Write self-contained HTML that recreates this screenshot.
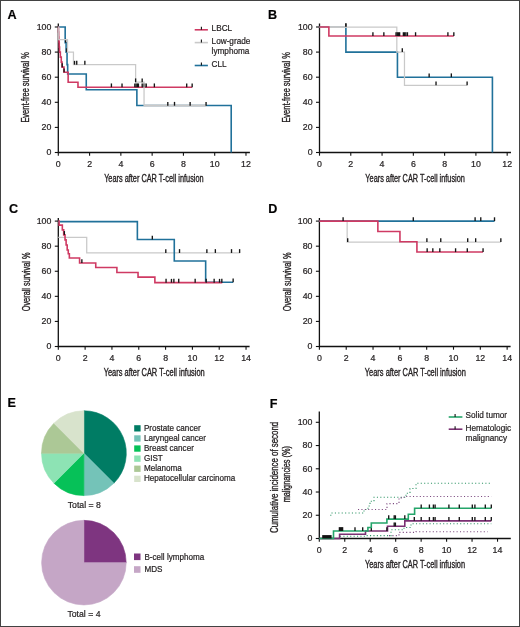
<!DOCTYPE html>
<html><head><meta charset="utf-8"><style>
html,body{margin:0;padding:0;background:#fff;}
body{width:520px;height:627px;overflow:hidden;font-family:"Liberation Sans", sans-serif;}
svg{display:block;will-change:transform;} text{stroke:#231f20;stroke-width:0.22px;} text.ct{stroke-width:0.35px;}
</style></head><body>
<svg width="520" height="627" viewBox="0 0 520 627" font-family='"Liberation Sans", sans-serif'>
<rect x="0" y="0" width="520" height="627" fill="#fff"/>
<path d="M58.30,23.50V152.50H249.90" fill="none" stroke="#111" stroke-width="1.3"/>
<line x1="58.30" y1="152.50" x2="58.30" y2="155.70" stroke="#111" stroke-width="1.1"/>
<text x="58.30" y="166.80" font-size="8.8" text-anchor="middle" fill="#231f20" >0</text>
<line x1="89.58" y1="152.50" x2="89.58" y2="155.70" stroke="#111" stroke-width="1.1"/>
<text x="89.58" y="166.80" font-size="8.8" text-anchor="middle" fill="#231f20" >2</text>
<line x1="120.86" y1="152.50" x2="120.86" y2="155.70" stroke="#111" stroke-width="1.1"/>
<text x="120.86" y="166.80" font-size="8.8" text-anchor="middle" fill="#231f20" >4</text>
<line x1="152.14" y1="152.50" x2="152.14" y2="155.70" stroke="#111" stroke-width="1.1"/>
<text x="152.14" y="166.80" font-size="8.8" text-anchor="middle" fill="#231f20" >6</text>
<line x1="183.42" y1="152.50" x2="183.42" y2="155.70" stroke="#111" stroke-width="1.1"/>
<text x="183.42" y="166.80" font-size="8.8" text-anchor="middle" fill="#231f20" >8</text>
<line x1="214.70" y1="152.50" x2="214.70" y2="155.70" stroke="#111" stroke-width="1.1"/>
<text x="214.70" y="166.80" font-size="8.8" text-anchor="middle" fill="#231f20" >10</text>
<line x1="245.98" y1="152.50" x2="245.98" y2="155.70" stroke="#111" stroke-width="1.1"/>
<text x="245.98" y="166.80" font-size="8.8" text-anchor="middle" fill="#231f20" >12</text>
<line x1="54.80" y1="152.50" x2="58.30" y2="152.50" stroke="#111" stroke-width="1.1"/>
<text x="51.40" y="155.40" font-size="8.8" text-anchor="end" fill="#231f20" >0</text>
<line x1="54.80" y1="127.40" x2="58.30" y2="127.40" stroke="#111" stroke-width="1.1"/>
<text x="51.40" y="130.30" font-size="8.8" text-anchor="end" fill="#231f20" >20</text>
<line x1="54.80" y1="102.30" x2="58.30" y2="102.30" stroke="#111" stroke-width="1.1"/>
<text x="51.40" y="105.20" font-size="8.8" text-anchor="end" fill="#231f20" >40</text>
<line x1="54.80" y1="77.20" x2="58.30" y2="77.20" stroke="#111" stroke-width="1.1"/>
<text x="51.40" y="80.10" font-size="8.8" text-anchor="end" fill="#231f20" >60</text>
<line x1="54.80" y1="52.10" x2="58.30" y2="52.10" stroke="#111" stroke-width="1.1"/>
<text x="51.40" y="55.00" font-size="8.8" text-anchor="end" fill="#231f20" >80</text>
<line x1="54.80" y1="27.00" x2="58.30" y2="27.00" stroke="#111" stroke-width="1.1"/>
<text x="51.40" y="29.90" font-size="8.8" text-anchor="end" fill="#231f20" >100</text>
<text x="153.90" y="181.80" font-size="10.2" text-anchor="middle" fill="#231f20" textLength="99.5" lengthAdjust="spacingAndGlyphs"  class="ct">Years after CAR T-cell infusion</text>
<text x="28.70" y="87.40" font-size="10.2" text-anchor="middle" fill="#231f20" textLength="70.4" lengthAdjust="spacingAndGlyphs" transform="rotate(-90 28.70 87.40)"  class="ct">Event-free survival %</text>
<text x="7.60" y="19.10" font-size="12.6" text-anchor="start" fill="#000" font-weight="bold" >A</text>
<path d="M58.30,27.00H65.17V42.69H66.11V52.10H67.05V64.65H67.67V74.06H86.26V89.75H136.87V105.44H231.21V152.50H231.21" fill="none" stroke="#20719a" stroke-width="1.6"/>
<line x1="65.64" y1="42.69" x2="65.64" y2="38.89" stroke="#151515" stroke-width="1.35"/>
<line x1="66.58" y1="52.10" x2="66.58" y2="48.30" stroke="#151515" stroke-width="1.35"/>
<path d="M58.30,27.00H58.53V32.02H58.77V37.04H59.00V42.06H59.24V47.08H59.55V52.10H60.33V57.12H61.27V62.14H62.05V67.16H63.92V72.18H68.14V82.22H77.98V87.24H192.16" fill="none" stroke="#cf3a63" stroke-width="1.6"/>
<line x1="62.20" y1="67.16" x2="62.20" y2="63.36" stroke="#151515" stroke-width="1.35"/>
<line x1="64.08" y1="72.18" x2="64.08" y2="68.38" stroke="#151515" stroke-width="1.35"/>
<line x1="111.41" y1="87.24" x2="111.41" y2="83.44" stroke="#151515" stroke-width="1.35"/>
<line x1="122.03" y1="87.24" x2="122.03" y2="83.44" stroke="#151515" stroke-width="1.35"/>
<line x1="134.84" y1="87.24" x2="134.84" y2="83.44" stroke="#151515" stroke-width="1.35"/>
<line x1="136.09" y1="87.24" x2="136.09" y2="83.44" stroke="#151515" stroke-width="1.35"/>
<line x1="137.34" y1="87.24" x2="137.34" y2="83.44" stroke="#151515" stroke-width="1.35"/>
<line x1="138.43" y1="87.24" x2="138.43" y2="83.44" stroke="#151515" stroke-width="1.35"/>
<line x1="142.18" y1="87.24" x2="142.18" y2="83.44" stroke="#151515" stroke-width="1.35"/>
<line x1="143.43" y1="87.24" x2="143.43" y2="83.44" stroke="#151515" stroke-width="1.35"/>
<line x1="144.68" y1="87.24" x2="144.68" y2="83.44" stroke="#151515" stroke-width="1.35"/>
<line x1="146.24" y1="87.24" x2="146.24" y2="83.44" stroke="#151515" stroke-width="1.35"/>
<line x1="154.36" y1="87.24" x2="154.36" y2="83.44" stroke="#151515" stroke-width="1.35"/>
<line x1="186.70" y1="87.24" x2="186.70" y2="83.44" stroke="#151515" stroke-width="1.35"/>
<line x1="192.16" y1="87.24" x2="192.16" y2="83.44" stroke="#151515" stroke-width="1.35"/>
<line x1="144.05" y1="105.56" x2="206.07" y2="105.56" stroke="#c9c9c9" stroke-width="1.9"/>
<path d="M58.30,27.00H58.77V39.55H67.52V52.10H73.45V64.65H135.62V82.22H144.05V105.69H206.07" fill="none" stroke="#c9c9c9" stroke-width="1.25"/>
<line x1="74.54" y1="64.65" x2="74.54" y2="60.85" stroke="#151515" stroke-width="1.35"/>
<line x1="76.73" y1="64.65" x2="76.73" y2="60.85" stroke="#151515" stroke-width="1.35"/>
<line x1="84.85" y1="64.65" x2="84.85" y2="60.85" stroke="#151515" stroke-width="1.35"/>
<line x1="135.62" y1="82.22" x2="135.62" y2="78.42" stroke="#151515" stroke-width="1.35"/>
<line x1="142.18" y1="82.22" x2="142.18" y2="78.42" stroke="#151515" stroke-width="1.35"/>
<line x1="167.80" y1="105.69" x2="167.80" y2="101.89" stroke="#151515" stroke-width="1.35"/>
<line x1="174.51" y1="105.69" x2="174.51" y2="101.89" stroke="#151515" stroke-width="1.35"/>
<line x1="190.13" y1="105.69" x2="190.13" y2="101.89" stroke="#151515" stroke-width="1.35"/>
<line x1="206.07" y1="105.69" x2="206.07" y2="101.89" stroke="#151515" stroke-width="1.35"/>
<line x1="194.7" y1="29.8" x2="207.9" y2="29.8" stroke="#cf3a63" stroke-width="1.6"/>
<line x1="201.4" y1="29.8" x2="201.4" y2="26.8" stroke="#111" stroke-width="1.1"/>
<text x="211.60" y="30.90" font-size="8.9" text-anchor="start" fill="#231f20" textLength="20.52" lengthAdjust="spacingAndGlyphs" class="lt">LBCL</text>
<line x1="194.7" y1="42.6" x2="207.9" y2="42.6" stroke="#c9c9c9" stroke-width="1.6"/>
<line x1="201.4" y1="42.6" x2="201.4" y2="39.6" stroke="#111" stroke-width="1.1"/>
<text x="211.60" y="43.90" font-size="8.9" text-anchor="start" fill="#231f20" textLength="38.76" lengthAdjust="spacingAndGlyphs" class="lt">Low-grade</text>
<text x="211.60" y="53.80" font-size="8.9" text-anchor="start" fill="#231f20" textLength="37.83" lengthAdjust="spacingAndGlyphs" class="lt">lymphoma</text>
<line x1="194.7" y1="65.5" x2="207.9" y2="65.5" stroke="#20719a" stroke-width="1.6"/>
<line x1="201.4" y1="65.5" x2="201.4" y2="62.5" stroke="#111" stroke-width="1.1"/>
<text x="211.60" y="66.80" font-size="8.9" text-anchor="start" fill="#231f20" textLength="15.06" lengthAdjust="spacingAndGlyphs" class="lt">CLL</text>
<path d="M319.50,23.50V152.50H511.00" fill="none" stroke="#111" stroke-width="1.3"/>
<line x1="319.50" y1="152.50" x2="319.50" y2="155.70" stroke="#111" stroke-width="1.1"/>
<text x="319.50" y="166.80" font-size="8.8" text-anchor="middle" fill="#231f20" >0</text>
<line x1="350.78" y1="152.50" x2="350.78" y2="155.70" stroke="#111" stroke-width="1.1"/>
<text x="350.78" y="166.80" font-size="8.8" text-anchor="middle" fill="#231f20" >2</text>
<line x1="382.06" y1="152.50" x2="382.06" y2="155.70" stroke="#111" stroke-width="1.1"/>
<text x="382.06" y="166.80" font-size="8.8" text-anchor="middle" fill="#231f20" >4</text>
<line x1="413.34" y1="152.50" x2="413.34" y2="155.70" stroke="#111" stroke-width="1.1"/>
<text x="413.34" y="166.80" font-size="8.8" text-anchor="middle" fill="#231f20" >6</text>
<line x1="444.62" y1="152.50" x2="444.62" y2="155.70" stroke="#111" stroke-width="1.1"/>
<text x="444.62" y="166.80" font-size="8.8" text-anchor="middle" fill="#231f20" >8</text>
<line x1="475.90" y1="152.50" x2="475.90" y2="155.70" stroke="#111" stroke-width="1.1"/>
<text x="475.90" y="166.80" font-size="8.8" text-anchor="middle" fill="#231f20" >10</text>
<line x1="507.18" y1="152.50" x2="507.18" y2="155.70" stroke="#111" stroke-width="1.1"/>
<text x="507.18" y="166.80" font-size="8.8" text-anchor="middle" fill="#231f20" >12</text>
<line x1="316.00" y1="152.50" x2="319.50" y2="152.50" stroke="#111" stroke-width="1.1"/>
<text x="312.60" y="155.40" font-size="8.8" text-anchor="end" fill="#231f20" >0</text>
<line x1="316.00" y1="127.40" x2="319.50" y2="127.40" stroke="#111" stroke-width="1.1"/>
<text x="312.60" y="130.30" font-size="8.8" text-anchor="end" fill="#231f20" >20</text>
<line x1="316.00" y1="102.30" x2="319.50" y2="102.30" stroke="#111" stroke-width="1.1"/>
<text x="312.60" y="105.20" font-size="8.8" text-anchor="end" fill="#231f20" >40</text>
<line x1="316.00" y1="77.20" x2="319.50" y2="77.20" stroke="#111" stroke-width="1.1"/>
<text x="312.60" y="80.10" font-size="8.8" text-anchor="end" fill="#231f20" >60</text>
<line x1="316.00" y1="52.10" x2="319.50" y2="52.10" stroke="#111" stroke-width="1.1"/>
<text x="312.60" y="55.00" font-size="8.8" text-anchor="end" fill="#231f20" >80</text>
<line x1="316.00" y1="27.00" x2="319.50" y2="27.00" stroke="#111" stroke-width="1.1"/>
<text x="312.60" y="29.90" font-size="8.8" text-anchor="end" fill="#231f20" >100</text>
<text x="415.10" y="181.80" font-size="10.2" text-anchor="middle" fill="#231f20" textLength="99.5" lengthAdjust="spacingAndGlyphs"  class="ct">Years after CAR T-cell infusion</text>
<text x="290.00" y="87.40" font-size="10.2" text-anchor="middle" fill="#231f20" textLength="70.4" lengthAdjust="spacingAndGlyphs" transform="rotate(-90 290.00 87.40)"  class="ct">Event-free survival %</text>
<text x="268.10" y="19.20" font-size="12.6" text-anchor="start" fill="#000" font-weight="bold" >B</text>
<path d="M319.50,27.00H345.90V52.10H397.44V77.20H492.41V152.50H492.41" fill="none" stroke="#20719a" stroke-width="1.6"/>
<line x1="429.15" y1="77.20" x2="429.15" y2="73.40" stroke="#151515" stroke-width="1.35"/>
<line x1="451.33" y1="77.20" x2="451.33" y2="73.40" stroke="#151515" stroke-width="1.35"/>
<path d="M319.50,27.00H396.82V52.10H404.47V85.36H467.11" fill="none" stroke="#c9c9c9" stroke-width="1.25"/>
<line x1="345.90" y1="27.00" x2="345.90" y2="23.20" stroke="#151515" stroke-width="1.35"/>
<line x1="402.29" y1="52.10" x2="402.29" y2="48.30" stroke="#151515" stroke-width="1.35"/>
<line x1="436.03" y1="85.36" x2="436.03" y2="81.56" stroke="#151515" stroke-width="1.35"/>
<line x1="467.11" y1="85.36" x2="467.11" y2="81.56" stroke="#151515" stroke-width="1.35"/>
<line x1="328.87" y1="27.00" x2="346.83" y2="27.00" stroke="#c9c9c9" stroke-width="1.8"/>
<line x1="345.90" y1="23.40" x2="345.90" y2="27.00" stroke="#111" stroke-width="1.1"/>
<path d="M319.50,27.00H328.87V36.04H453.83" fill="none" stroke="#cf3a63" stroke-width="1.6"/>
<line x1="372.92" y1="36.04" x2="372.92" y2="32.24" stroke="#151515" stroke-width="1.35"/>
<line x1="383.85" y1="36.04" x2="383.85" y2="32.24" stroke="#151515" stroke-width="1.35"/>
<line x1="396.04" y1="36.04" x2="396.04" y2="32.24" stroke="#151515" stroke-width="1.35"/>
<line x1="397.29" y1="36.04" x2="397.29" y2="32.24" stroke="#151515" stroke-width="1.35"/>
<line x1="398.54" y1="36.04" x2="398.54" y2="32.24" stroke="#151515" stroke-width="1.35"/>
<line x1="399.63" y1="36.04" x2="399.63" y2="32.24" stroke="#151515" stroke-width="1.35"/>
<line x1="403.38" y1="36.04" x2="403.38" y2="32.24" stroke="#151515" stroke-width="1.35"/>
<line x1="404.63" y1="36.04" x2="404.63" y2="32.24" stroke="#151515" stroke-width="1.35"/>
<line x1="405.88" y1="36.04" x2="405.88" y2="32.24" stroke="#151515" stroke-width="1.35"/>
<line x1="407.44" y1="36.04" x2="407.44" y2="32.24" stroke="#151515" stroke-width="1.35"/>
<line x1="415.56" y1="36.04" x2="415.56" y2="32.24" stroke="#151515" stroke-width="1.35"/>
<line x1="447.90" y1="36.04" x2="447.90" y2="32.24" stroke="#151515" stroke-width="1.35"/>
<line x1="453.83" y1="36.04" x2="453.83" y2="32.24" stroke="#151515" stroke-width="1.35"/>
<path d="M58.30,218.00V346.50H249.60" fill="none" stroke="#111" stroke-width="1.3"/>
<line x1="58.30" y1="346.50" x2="58.30" y2="349.70" stroke="#111" stroke-width="1.1"/>
<text x="58.30" y="360.80" font-size="8.8" text-anchor="middle" fill="#231f20" >0</text>
<line x1="85.12" y1="346.50" x2="85.12" y2="349.70" stroke="#111" stroke-width="1.1"/>
<text x="85.12" y="360.80" font-size="8.8" text-anchor="middle" fill="#231f20" >2</text>
<line x1="111.94" y1="346.50" x2="111.94" y2="349.70" stroke="#111" stroke-width="1.1"/>
<text x="111.94" y="360.80" font-size="8.8" text-anchor="middle" fill="#231f20" >4</text>
<line x1="138.76" y1="346.50" x2="138.76" y2="349.70" stroke="#111" stroke-width="1.1"/>
<text x="138.76" y="360.80" font-size="8.8" text-anchor="middle" fill="#231f20" >6</text>
<line x1="165.58" y1="346.50" x2="165.58" y2="349.70" stroke="#111" stroke-width="1.1"/>
<text x="165.58" y="360.80" font-size="8.8" text-anchor="middle" fill="#231f20" >8</text>
<line x1="192.40" y1="346.50" x2="192.40" y2="349.70" stroke="#111" stroke-width="1.1"/>
<text x="192.40" y="360.80" font-size="8.8" text-anchor="middle" fill="#231f20" >10</text>
<line x1="219.22" y1="346.50" x2="219.22" y2="349.70" stroke="#111" stroke-width="1.1"/>
<text x="219.22" y="360.80" font-size="8.8" text-anchor="middle" fill="#231f20" >12</text>
<line x1="246.04" y1="346.50" x2="246.04" y2="349.70" stroke="#111" stroke-width="1.1"/>
<text x="246.04" y="360.80" font-size="8.8" text-anchor="middle" fill="#231f20" >14</text>
<line x1="54.80" y1="346.50" x2="58.30" y2="346.50" stroke="#111" stroke-width="1.1"/>
<text x="51.40" y="349.40" font-size="8.8" text-anchor="end" fill="#231f20" >0</text>
<line x1="54.80" y1="321.42" x2="58.30" y2="321.42" stroke="#111" stroke-width="1.1"/>
<text x="51.40" y="324.32" font-size="8.8" text-anchor="end" fill="#231f20" >20</text>
<line x1="54.80" y1="296.34" x2="58.30" y2="296.34" stroke="#111" stroke-width="1.1"/>
<text x="51.40" y="299.24" font-size="8.8" text-anchor="end" fill="#231f20" >40</text>
<line x1="54.80" y1="271.26" x2="58.30" y2="271.26" stroke="#111" stroke-width="1.1"/>
<text x="51.40" y="274.16" font-size="8.8" text-anchor="end" fill="#231f20" >60</text>
<line x1="54.80" y1="246.18" x2="58.30" y2="246.18" stroke="#111" stroke-width="1.1"/>
<text x="51.40" y="249.08" font-size="8.8" text-anchor="end" fill="#231f20" >80</text>
<line x1="54.80" y1="221.10" x2="58.30" y2="221.10" stroke="#111" stroke-width="1.1"/>
<text x="51.40" y="224.00" font-size="8.8" text-anchor="end" fill="#231f20" >100</text>
<text x="154.20" y="376.10" font-size="10.2" text-anchor="middle" fill="#231f20" textLength="101" lengthAdjust="spacingAndGlyphs"  class="ct">Years after CAR T-cell infusion</text>
<text x="30.00" y="281.90" font-size="10.2" text-anchor="middle" fill="#231f20" textLength="58.7" lengthAdjust="spacingAndGlyphs" transform="rotate(-90 30.00 281.90)"  class="ct">Overall survival %</text>
<text x="8.90" y="212.90" font-size="12.6" text-anchor="start" fill="#000" font-weight="bold" >C</text>
<path d="M58.30,237.40H86.72V252.95H240.14" fill="none" stroke="#c9c9c9" stroke-width="1.25"/>
<line x1="165.79" y1="252.95" x2="165.79" y2="249.15" stroke="#151515" stroke-width="1.35"/>
<line x1="179.53" y1="252.95" x2="179.53" y2="249.15" stroke="#151515" stroke-width="1.35"/>
<line x1="206.87" y1="252.95" x2="206.87" y2="249.15" stroke="#151515" stroke-width="1.35"/>
<line x1="215.36" y1="252.95" x2="215.36" y2="249.15" stroke="#151515" stroke-width="1.35"/>
<line x1="231.52" y1="252.95" x2="231.52" y2="249.15" stroke="#151515" stroke-width="1.35"/>
<line x1="239.61" y1="252.95" x2="239.61" y2="249.15" stroke="#151515" stroke-width="1.35"/>
<path d="M58.30,221.60H137.37V239.53H174.28V260.98H205.66V282.30H233.14" fill="none" stroke="#20719a" stroke-width="1.6"/>
<line x1="152.32" y1="239.53" x2="152.32" y2="235.73" stroke="#151515" stroke-width="1.35"/>
<line x1="233.14" y1="282.30" x2="233.14" y2="278.50" stroke="#151515" stroke-width="1.35"/>
<path d="M58.30,221.10H59.11V225.11H62.34V229.88H63.69V234.89H65.03V239.91H66.11V244.93H67.19V249.94H68.27V253.70H69.35V257.97H79.58V262.98H95.75V267.50H116.89V272.51H138.04V277.15H154.88V282.67H222.23" fill="none" stroke="#cf3a63" stroke-width="1.6"/>
<line x1="64.36" y1="234.89" x2="64.36" y2="231.09" stroke="#151515" stroke-width="1.35"/>
<line x1="81.87" y1="262.98" x2="81.87" y2="259.18" stroke="#151515" stroke-width="1.35"/>
<line x1="166.06" y1="282.67" x2="166.06" y2="278.87" stroke="#151515" stroke-width="1.35"/>
<line x1="171.45" y1="282.67" x2="171.45" y2="278.87" stroke="#151515" stroke-width="1.35"/>
<line x1="173.87" y1="282.67" x2="173.87" y2="278.87" stroke="#151515" stroke-width="1.35"/>
<line x1="178.72" y1="282.67" x2="178.72" y2="278.87" stroke="#151515" stroke-width="1.35"/>
<line x1="195.16" y1="282.67" x2="195.16" y2="278.87" stroke="#151515" stroke-width="1.35"/>
<line x1="206.20" y1="282.67" x2="206.20" y2="278.87" stroke="#151515" stroke-width="1.35"/>
<line x1="214.15" y1="282.67" x2="214.15" y2="278.87" stroke="#151515" stroke-width="1.35"/>
<line x1="219.54" y1="282.67" x2="219.54" y2="278.87" stroke="#151515" stroke-width="1.35"/>
<line x1="221.83" y1="282.67" x2="221.83" y2="278.87" stroke="#151515" stroke-width="1.35"/>
<path d="M319.40,218.00V346.50H510.60" fill="none" stroke="#111" stroke-width="1.3"/>
<line x1="319.40" y1="346.50" x2="319.40" y2="349.70" stroke="#111" stroke-width="1.1"/>
<text x="319.40" y="360.80" font-size="8.8" text-anchor="middle" fill="#231f20" >0</text>
<line x1="346.22" y1="346.50" x2="346.22" y2="349.70" stroke="#111" stroke-width="1.1"/>
<text x="346.22" y="360.80" font-size="8.8" text-anchor="middle" fill="#231f20" >2</text>
<line x1="373.04" y1="346.50" x2="373.04" y2="349.70" stroke="#111" stroke-width="1.1"/>
<text x="373.04" y="360.80" font-size="8.8" text-anchor="middle" fill="#231f20" >4</text>
<line x1="399.86" y1="346.50" x2="399.86" y2="349.70" stroke="#111" stroke-width="1.1"/>
<text x="399.86" y="360.80" font-size="8.8" text-anchor="middle" fill="#231f20" >6</text>
<line x1="426.68" y1="346.50" x2="426.68" y2="349.70" stroke="#111" stroke-width="1.1"/>
<text x="426.68" y="360.80" font-size="8.8" text-anchor="middle" fill="#231f20" >8</text>
<line x1="453.50" y1="346.50" x2="453.50" y2="349.70" stroke="#111" stroke-width="1.1"/>
<text x="453.50" y="360.80" font-size="8.8" text-anchor="middle" fill="#231f20" >10</text>
<line x1="480.32" y1="346.50" x2="480.32" y2="349.70" stroke="#111" stroke-width="1.1"/>
<text x="480.32" y="360.80" font-size="8.8" text-anchor="middle" fill="#231f20" >12</text>
<line x1="507.14" y1="346.50" x2="507.14" y2="349.70" stroke="#111" stroke-width="1.1"/>
<text x="507.14" y="360.80" font-size="8.8" text-anchor="middle" fill="#231f20" >14</text>
<line x1="315.90" y1="346.50" x2="319.40" y2="346.50" stroke="#111" stroke-width="1.1"/>
<text x="312.50" y="349.40" font-size="8.8" text-anchor="end" fill="#231f20" >0</text>
<line x1="315.90" y1="321.42" x2="319.40" y2="321.42" stroke="#111" stroke-width="1.1"/>
<text x="312.50" y="324.32" font-size="8.8" text-anchor="end" fill="#231f20" >20</text>
<line x1="315.90" y1="296.34" x2="319.40" y2="296.34" stroke="#111" stroke-width="1.1"/>
<text x="312.50" y="299.24" font-size="8.8" text-anchor="end" fill="#231f20" >40</text>
<line x1="315.90" y1="271.26" x2="319.40" y2="271.26" stroke="#111" stroke-width="1.1"/>
<text x="312.50" y="274.16" font-size="8.8" text-anchor="end" fill="#231f20" >60</text>
<line x1="315.90" y1="246.18" x2="319.40" y2="246.18" stroke="#111" stroke-width="1.1"/>
<text x="312.50" y="249.08" font-size="8.8" text-anchor="end" fill="#231f20" >80</text>
<line x1="315.90" y1="221.10" x2="319.40" y2="221.10" stroke="#111" stroke-width="1.1"/>
<text x="312.50" y="224.00" font-size="8.8" text-anchor="end" fill="#231f20" >100</text>
<text x="415.30" y="376.10" font-size="10.2" text-anchor="middle" fill="#231f20" textLength="101" lengthAdjust="spacingAndGlyphs"  class="ct">Years after CAR T-cell infusion</text>
<text x="291.20" y="281.90" font-size="10.2" text-anchor="middle" fill="#231f20" textLength="58.7" lengthAdjust="spacingAndGlyphs" transform="rotate(-90 291.20 281.90)"  class="ct">Overall survival %</text>
<text x="268.20" y="213.40" font-size="12.6" text-anchor="start" fill="#000" font-weight="bold" >D</text>
<path d="M319.40,221.10H347.15V242.04H500.84" fill="none" stroke="#c9c9c9" stroke-width="1.25"/>
<line x1="347.69" y1="242.04" x2="347.69" y2="238.24" stroke="#151515" stroke-width="1.35"/>
<line x1="426.89" y1="242.04" x2="426.89" y2="238.24" stroke="#151515" stroke-width="1.35"/>
<line x1="440.76" y1="242.04" x2="440.76" y2="238.24" stroke="#151515" stroke-width="1.35"/>
<line x1="467.70" y1="242.04" x2="467.70" y2="238.24" stroke="#151515" stroke-width="1.35"/>
<line x1="475.65" y1="242.04" x2="475.65" y2="238.24" stroke="#151515" stroke-width="1.35"/>
<line x1="500.84" y1="242.04" x2="500.84" y2="238.24" stroke="#151515" stroke-width="1.35"/>
<path d="M319.40,221.10H494.51" fill="none" stroke="#20719a" stroke-width="1.6"/>
<line x1="413.29" y1="221.10" x2="413.29" y2="217.30" stroke="#151515" stroke-width="1.35"/>
<line x1="475.11" y1="221.10" x2="475.11" y2="217.30" stroke="#151515" stroke-width="1.35"/>
<line x1="480.77" y1="221.10" x2="480.77" y2="217.30" stroke="#151515" stroke-width="1.35"/>
<line x1="494.51" y1="221.10" x2="494.51" y2="217.30" stroke="#151515" stroke-width="1.35"/>
<path d="M319.40,221.10H377.86V231.51H399.95V241.79H416.92V252.07H483.06" fill="none" stroke="#cf3a63" stroke-width="1.6"/>
<line x1="343.11" y1="221.10" x2="343.11" y2="217.30" stroke="#151515" stroke-width="1.35"/>
<line x1="427.16" y1="252.07" x2="427.16" y2="248.27" stroke="#151515" stroke-width="1.35"/>
<line x1="432.82" y1="252.07" x2="432.82" y2="248.27" stroke="#151515" stroke-width="1.35"/>
<line x1="439.82" y1="252.07" x2="439.82" y2="248.27" stroke="#151515" stroke-width="1.35"/>
<line x1="455.58" y1="252.07" x2="455.58" y2="248.27" stroke="#151515" stroke-width="1.35"/>
<line x1="467.30" y1="252.07" x2="467.30" y2="248.27" stroke="#151515" stroke-width="1.35"/>
<line x1="483.06" y1="252.07" x2="483.06" y2="248.27" stroke="#151515" stroke-width="1.35"/>
<path d="M83.9,453.2L83.90,410.80A42.4,42.4 0 0 1 113.88,483.18Z" fill="#007c64" stroke="#007c64" stroke-width="0.6" stroke-linejoin="round"/>
<path d="M83.9,453.2L113.88,483.18A42.4,42.4 0 0 1 83.90,495.60Z" fill="#74c3b8" stroke="#74c3b8" stroke-width="0.6" stroke-linejoin="round"/>
<path d="M83.9,453.2L83.90,495.60A42.4,42.4 0 0 1 53.92,483.18Z" fill="#06c158" stroke="#06c158" stroke-width="0.6" stroke-linejoin="round"/>
<path d="M83.9,453.2L53.92,483.18A42.4,42.4 0 0 1 41.50,453.20Z" fill="#8de3b4" stroke="#8de3b4" stroke-width="0.6" stroke-linejoin="round"/>
<path d="M83.9,453.2L41.50,453.20A42.4,42.4 0 0 1 53.92,423.22Z" fill="#acc896" stroke="#acc896" stroke-width="0.6" stroke-linejoin="round"/>
<path d="M83.9,453.2L53.92,423.22A42.4,42.4 0 0 1 83.90,410.80Z" fill="#d8e3cc" stroke="#d8e3cc" stroke-width="0.6" stroke-linejoin="round"/>
<path d="M83.9,562.65L83.90,520.35A42.3,42.3 0 0 1 126.20,562.65Z" fill="#7e3580" stroke="#7e3580" stroke-width="0.6" stroke-linejoin="round"/>
<path d="M83.9,562.65L126.20,562.65A42.3,42.3 0 1 1 83.90,520.35Z" fill="#c5a6c6" stroke="#c5a6c6" stroke-width="0.6" stroke-linejoin="round"/>
<text x="7.50" y="406.90" font-size="12.6" text-anchor="start" fill="#000" font-weight="bold" >E</text>
<rect x="134.2" y="425.20" width="6.4" height="6.3" fill="#007c64"/>
<text x="143.90" y="430.60" font-size="8.9" text-anchor="start" fill="#231f20" textLength="56.74" lengthAdjust="spacingAndGlyphs" class="lt">Prostate cancer</text>
<rect x="134.2" y="435.30" width="6.4" height="6.3" fill="#74c3b8"/>
<text x="143.90" y="440.70" font-size="8.9" text-anchor="start" fill="#231f20" textLength="62.14" lengthAdjust="spacingAndGlyphs" class="lt">Laryngeal cancer</text>
<rect x="134.2" y="445.40" width="6.4" height="6.3" fill="#06c158"/>
<text x="143.90" y="450.80" font-size="8.9" text-anchor="start" fill="#231f20" textLength="49.98" lengthAdjust="spacingAndGlyphs" class="lt">Breast cancer</text>
<rect x="134.2" y="455.50" width="6.4" height="6.3" fill="#8de3b4"/>
<text x="143.90" y="460.90" font-size="8.9" text-anchor="start" fill="#231f20" textLength="18.91" lengthAdjust="spacingAndGlyphs" class="lt">GIST</text>
<rect x="134.2" y="465.60" width="6.4" height="6.3" fill="#acc896"/>
<text x="143.90" y="471.00" font-size="8.9" text-anchor="start" fill="#231f20" textLength="37.83" lengthAdjust="spacingAndGlyphs" class="lt">Melanoma</text>
<rect x="134.2" y="475.70" width="6.4" height="6.3" fill="#d8e3cc"/>
<text x="143.90" y="481.10" font-size="8.9" text-anchor="start" fill="#231f20" textLength="91.40" lengthAdjust="spacingAndGlyphs" class="lt">Hepatocellular carcinoma</text>
<text x="84.30" y="507.90" font-size="9.3" text-anchor="middle" fill="#231f20" textLength="33.14" lengthAdjust="spacingAndGlyphs" class="lt">Total = 8</text>
<rect x="134.0" y="553.50" width="6.5" height="6.6" fill="#7e3580"/>
<text x="144.40" y="559.70" font-size="8.9" text-anchor="start" fill="#231f20" textLength="59.88" lengthAdjust="spacingAndGlyphs" class="lt">B-cell lymphoma</text>
<rect x="134.0" y="566.20" width="6.5" height="6.6" fill="#c5a6c6"/>
<text x="144.40" y="572.40" font-size="8.9" text-anchor="start" fill="#231f20" textLength="18.01" lengthAdjust="spacingAndGlyphs" class="lt">MDS</text>
<text x="84.00" y="617.20" font-size="9.3" text-anchor="middle" fill="#231f20" textLength="33.14" lengthAdjust="spacingAndGlyphs" class="lt">Total = 4</text>
<path d="M319.30,411.60V538.50H510.80" fill="none" stroke="#111" stroke-width="1.3"/>
<line x1="319.30" y1="538.50" x2="319.30" y2="541.70" stroke="#111" stroke-width="1.1"/>
<text x="319.30" y="553.40" font-size="8.8" text-anchor="middle" fill="#231f20" >0</text>
<line x1="344.76" y1="538.50" x2="344.76" y2="541.70" stroke="#111" stroke-width="1.1"/>
<text x="344.76" y="553.40" font-size="8.8" text-anchor="middle" fill="#231f20" >2</text>
<line x1="370.22" y1="538.50" x2="370.22" y2="541.70" stroke="#111" stroke-width="1.1"/>
<text x="370.22" y="553.40" font-size="8.8" text-anchor="middle" fill="#231f20" >4</text>
<line x1="395.68" y1="538.50" x2="395.68" y2="541.70" stroke="#111" stroke-width="1.1"/>
<text x="395.68" y="553.40" font-size="8.8" text-anchor="middle" fill="#231f20" >6</text>
<line x1="421.14" y1="538.50" x2="421.14" y2="541.70" stroke="#111" stroke-width="1.1"/>
<text x="421.14" y="553.40" font-size="8.8" text-anchor="middle" fill="#231f20" >8</text>
<line x1="446.60" y1="538.50" x2="446.60" y2="541.70" stroke="#111" stroke-width="1.1"/>
<text x="446.60" y="553.40" font-size="8.8" text-anchor="middle" fill="#231f20" >10</text>
<line x1="472.06" y1="538.50" x2="472.06" y2="541.70" stroke="#111" stroke-width="1.1"/>
<text x="472.06" y="553.40" font-size="8.8" text-anchor="middle" fill="#231f20" >12</text>
<line x1="497.52" y1="538.50" x2="497.52" y2="541.70" stroke="#111" stroke-width="1.1"/>
<text x="497.52" y="553.40" font-size="8.8" text-anchor="middle" fill="#231f20" >14</text>
<line x1="315.80" y1="538.50" x2="319.30" y2="538.50" stroke="#111" stroke-width="1.1"/>
<text x="312.40" y="541.40" font-size="8.8" text-anchor="end" fill="#231f20" >0</text>
<line x1="315.80" y1="515.26" x2="319.30" y2="515.26" stroke="#111" stroke-width="1.1"/>
<text x="312.40" y="518.16" font-size="8.8" text-anchor="end" fill="#231f20" >20</text>
<line x1="315.80" y1="492.02" x2="319.30" y2="492.02" stroke="#111" stroke-width="1.1"/>
<text x="312.40" y="494.92" font-size="8.8" text-anchor="end" fill="#231f20" >40</text>
<line x1="315.80" y1="468.78" x2="319.30" y2="468.78" stroke="#111" stroke-width="1.1"/>
<text x="312.40" y="471.68" font-size="8.8" text-anchor="end" fill="#231f20" >60</text>
<line x1="315.80" y1="445.54" x2="319.30" y2="445.54" stroke="#111" stroke-width="1.1"/>
<text x="312.40" y="448.44" font-size="8.8" text-anchor="end" fill="#231f20" >80</text>
<line x1="315.80" y1="422.30" x2="319.30" y2="422.30" stroke="#111" stroke-width="1.1"/>
<text x="312.40" y="425.20" font-size="8.8" text-anchor="end" fill="#231f20" >100</text>
<text x="415.00" y="567.60" font-size="10.2" text-anchor="middle" fill="#231f20" textLength="100" lengthAdjust="spacingAndGlyphs"  class="ct">Years after CAR T-cell infusion</text>
<text x="278.50" y="477.40" font-size="10.2" text-anchor="middle" fill="#231f20" textLength="111.2" lengthAdjust="spacingAndGlyphs" transform="rotate(-90 278.50 477.40)"  class="ct">Cumulative incidence of second</text>
<text x="290.00" y="474.20" font-size="10.2" text-anchor="middle" fill="#231f20" textLength="56.3" lengthAdjust="spacingAndGlyphs" transform="rotate(-90 290.00 474.20)"  class="ct">malignancies (%)</text>
<text x="269.70" y="408.30" font-size="12.6" text-anchor="start" fill="#000" font-weight="bold" >F</text>
<path d="M330.30,515.26H330.80V513.05H364.00V509.45H368.00V505.96H370.00V501.32H374.00V497.25H406.00V493.18H410.00V488.53H416.00V483.31H491.30" fill="none" stroke="#2f9566" stroke-width="1.1" stroke-dasharray="1.1 2.3"/>
<path d="M358.00,509.57H387.00V503.64H399.00V497.83H404.00V496.55H491.30" fill="none" stroke="#7d4a80" stroke-width="1.1" stroke-dasharray="1.1 2.3"/>
<path d="M340.00,536.18H365.00V535.60H391.00V529.78H404.00V527.46H411.00V523.74H491.30" fill="none" stroke="#2f9566" stroke-width="1.1" stroke-dasharray="1.1 2.3"/>
<path d="M389.00,535.60H399.00V532.34H416.00V531.76H487.70" fill="none" stroke="#7d4a80" stroke-width="1.1" stroke-dasharray="1.1 2.3"/>
<path d="M319.30,538.50H339.60V534.32H365.50V531.01H387.50V526.30H404.80V520.84H491.30" fill="none" stroke="#7a3072" stroke-width="1.6"/>
<line x1="371.30" y1="531.01" x2="371.30" y2="527.21" stroke="#151515" stroke-width="1.35"/>
<line x1="386.90" y1="531.01" x2="386.90" y2="527.21" stroke="#151515" stroke-width="1.35"/>
<line x1="394.20" y1="526.30" x2="394.20" y2="522.50" stroke="#151515" stroke-width="1.35"/>
<line x1="395.40" y1="526.30" x2="395.40" y2="522.50" stroke="#151515" stroke-width="1.35"/>
<line x1="414.30" y1="520.84" x2="414.30" y2="517.04" stroke="#151515" stroke-width="1.35"/>
<line x1="421.20" y1="520.84" x2="421.20" y2="517.04" stroke="#151515" stroke-width="1.35"/>
<line x1="429.40" y1="520.84" x2="429.40" y2="517.04" stroke="#151515" stroke-width="1.35"/>
<line x1="433.40" y1="520.84" x2="433.40" y2="517.04" stroke="#151515" stroke-width="1.35"/>
<line x1="435.10" y1="520.84" x2="435.10" y2="517.04" stroke="#151515" stroke-width="1.35"/>
<line x1="448.90" y1="520.84" x2="448.90" y2="517.04" stroke="#151515" stroke-width="1.35"/>
<line x1="459.30" y1="520.84" x2="459.30" y2="517.04" stroke="#151515" stroke-width="1.35"/>
<line x1="472.30" y1="520.84" x2="472.30" y2="517.04" stroke="#151515" stroke-width="1.35"/>
<line x1="474.90" y1="520.84" x2="474.90" y2="517.04" stroke="#151515" stroke-width="1.35"/>
<line x1="485.30" y1="520.84" x2="485.30" y2="517.04" stroke="#151515" stroke-width="1.35"/>
<line x1="491.30" y1="520.84" x2="491.30" y2="517.04" stroke="#151515" stroke-width="1.35"/>
<path d="M319.30,538.50H333.50V530.95H367.90V527.46H371.30V522.93H386.90V519.09H408.30V514.21H414.60V508.29H491.30" fill="none" stroke="#24a56a" stroke-width="1.6"/>
<line x1="339.40" y1="530.95" x2="339.40" y2="527.15" stroke="#151515" stroke-width="1.35"/>
<line x1="340.50" y1="530.95" x2="340.50" y2="527.15" stroke="#151515" stroke-width="1.35"/>
<line x1="341.60" y1="530.95" x2="341.60" y2="527.15" stroke="#151515" stroke-width="1.35"/>
<line x1="342.60" y1="530.95" x2="342.60" y2="527.15" stroke="#151515" stroke-width="1.35"/>
<line x1="355.00" y1="530.95" x2="355.00" y2="527.15" stroke="#151515" stroke-width="1.35"/>
<line x1="362.70" y1="530.95" x2="362.70" y2="527.15" stroke="#151515" stroke-width="1.35"/>
<line x1="388.70" y1="519.09" x2="388.70" y2="515.29" stroke="#151515" stroke-width="1.35"/>
<line x1="394.20" y1="519.09" x2="394.20" y2="515.29" stroke="#151515" stroke-width="1.35"/>
<line x1="395.40" y1="519.09" x2="395.40" y2="515.29" stroke="#151515" stroke-width="1.35"/>
<line x1="404.80" y1="519.09" x2="404.80" y2="515.29" stroke="#151515" stroke-width="1.35"/>
<line x1="421.20" y1="508.29" x2="421.20" y2="504.49" stroke="#151515" stroke-width="1.35"/>
<line x1="429.40" y1="508.29" x2="429.40" y2="504.49" stroke="#151515" stroke-width="1.35"/>
<line x1="433.40" y1="508.29" x2="433.40" y2="504.49" stroke="#151515" stroke-width="1.35"/>
<line x1="435.10" y1="508.29" x2="435.10" y2="504.49" stroke="#151515" stroke-width="1.35"/>
<line x1="448.90" y1="508.29" x2="448.90" y2="504.49" stroke="#151515" stroke-width="1.35"/>
<line x1="459.30" y1="508.29" x2="459.30" y2="504.49" stroke="#151515" stroke-width="1.35"/>
<line x1="472.30" y1="508.29" x2="472.30" y2="504.49" stroke="#151515" stroke-width="1.35"/>
<line x1="474.90" y1="508.29" x2="474.90" y2="504.49" stroke="#151515" stroke-width="1.35"/>
<line x1="485.30" y1="508.29" x2="485.30" y2="504.49" stroke="#151515" stroke-width="1.35"/>
<line x1="491.30" y1="508.29" x2="491.30" y2="504.49" stroke="#151515" stroke-width="1.35"/>
<rect x="322.2" y="535.1" width="9.4" height="3.4" fill="#111"/>
<line x1="448.7" y1="417.0" x2="462.4" y2="417.0" stroke="#24a56a" stroke-width="1.6"/>
<line x1="455.1" y1="417.0" x2="455.1" y2="414.0" stroke="#111" stroke-width="1.1"/>
<text x="465.60" y="417.90" font-size="8.9" text-anchor="start" fill="#231f20" textLength="41.48" lengthAdjust="spacingAndGlyphs" class="lt">Solid tumor</text>
<line x1="448.7" y1="429.2" x2="462.4" y2="429.2" stroke="#7a3072" stroke-width="1.6"/>
<line x1="455.1" y1="429.2" x2="455.1" y2="426.2" stroke="#111" stroke-width="1.1"/>
<text x="465.60" y="430.70" font-size="8.9" text-anchor="start" fill="#231f20" textLength="45.58" lengthAdjust="spacingAndGlyphs" class="lt">Hematologic</text>
<text x="465.60" y="440.60" font-size="8.9" text-anchor="start" fill="#231f20" textLength="41.48" lengthAdjust="spacingAndGlyphs" class="lt">malignancy</text>
<rect x="0.5" y="0.5" width="519" height="626" fill="none" stroke="#424242" stroke-width="1"/>
</svg>
</body></html>
